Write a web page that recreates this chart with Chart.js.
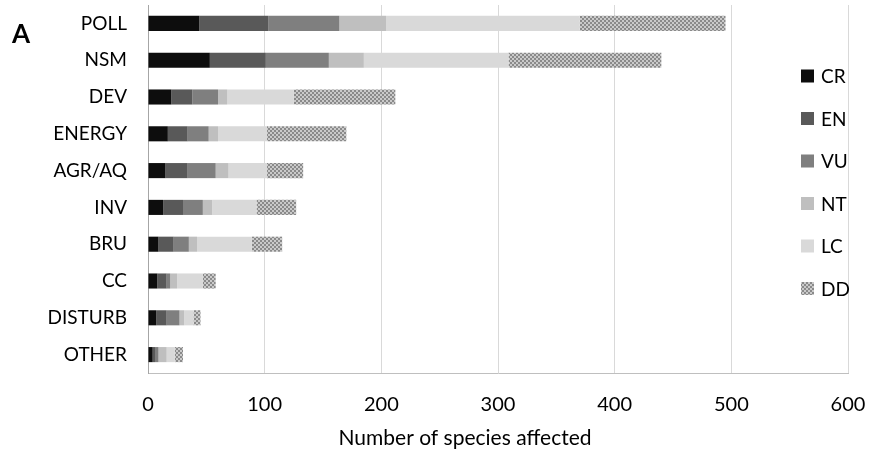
<!DOCTYPE html>
<html>
<head>
<meta charset="utf-8">
<script src="https://cdn.jsdelivr.net/npm/chart.js@4.4.1/dist/chart.umd.min.js"></script>
<style>
html,body{margin:0;padding:0;background:#fff;}
#wrap{width:874px;height:453px;position:relative;}
</style>
</head>
<body>
<div id="wrap"><canvas id="c" width="874" height="453"></canvas></div>
<script>
const categories = ["POLL","NSM","DEV","ENERGY","AGR/AQ","INV","BRU","CC","DISTURB","OTHER"];
const CR = [44, 53, 20, 17, 15, 13, 9, 8, 7, 4];
const EN = [59, 48, 18, 17, 19, 17, 13, 8, 9, 2];
const VU = [61, 54, 22, 18, 24, 17, 13, 3, 11, 3];
const NT = [40, 30, 8, 8, 11, 8, 7, 6, 4, 7];
const LC = [166, 124, 57, 42, 33, 38, 47, 22, 8, 7];
const DD = [125, 131, 87, 68, 31, 34, 26, 11, 6, 7];
const seriesNames = ["CR","EN","VU","NT","LC","DD"];
const xTicks = [0,100,200,300,400,500,600];
const xTitle = "Number of species affected";
const panelLabel = "A";

function makePattern(){
  const p = document.createElement('canvas');
  p.width = 4; p.height = 4;
  const g = p.getContext('2d');
  g.fillStyle = '#cacaca'; g.fillRect(0,0,4,4);
  g.fillStyle = '#8a8a8a';
  g.fillRect(0,0,2,2); g.fillRect(2,2,2,2);
  return g.createPattern(p,'repeat');
}
const ctx = document.getElementById('c').getContext('2d');
const ddPattern = makePattern();
const colors = ['#0d0d0d','#595959','#7f7f7f','#bfbfbf','#d9d9d9', ddPattern];
const values = [CR,EN,VU,NT,LC,DD];

const FONT = "Lato, 'Open Sans', sans-serif";

const legendPlugin = {
  id: 'customLegend',
  afterDraw(chart){
    const c = chart.ctx;
    const ca = chart.chartArea;
    c.save();
    const x0 = ca.right - 47, y0 = 76, step = 42.5, box = 13;
    chart.data.datasets.forEach((ds,i)=>{
      const y = y0 + i*step;
      c.fillStyle = ds.backgroundColor;
      c.fillRect(x0, y - box/2, box, box);
      c.fillStyle = '#000';
      c.font = "19px " + FONT;
      c.textBaseline = 'middle';
      c.textAlign = 'left';
      c.fillText(ds.label, x0 + 20, y + 1);
    });
    c.font = "bold 26px " + FONT;
    c.textBaseline = 'alphabetic';
    c.fillText(panelLabel, 12, 43);
    c.font = "21px " + FONT;
    c.textAlign = 'center';
    c.textBaseline = 'middle';
    c.fillText(xTitle, 465, 438);
    c.restore();
  }
};

new Chart(ctx, {
  type: 'bar',
  data: {
    labels: categories,
    datasets: seriesNames.map((n,i)=>({
      label: n,
      data: values[i],
      backgroundColor: colors[i],
      borderWidth: 0,
      categoryPercentage: 1,
      barPercentage: 0.41
    }))
  },
  options: {
    indexAxis: 'y',
    responsive: false,
    animation: false,
    layout: { padding: { top: 5, right: 26, left: 0, bottom: 0 } },
    plugins: { legend: { display: false }, tooltip: { enabled: false } },
    scales: {
      x: {
        stacked: true,
        min: 0, max: 600,
        afterBuildTicks: s => { s.ticks = xTicks.map(v=>({value:v})); },
        grid: { color: '#d9d9d9', drawTicks: false, lineWidth: 1 },
        border: { display: true, color: '#bfbfbf' },
        ticks: { color: '#000', font: { family: FONT, size: 20 }, padding: 20 },
        title: { display: false },
        afterFit: s => { s.height = 80; s.paddingLeft = 0; s.paddingRight = 0; s.paddingTop = 0; s.paddingBottom = 0; }
      },
      y: {
        stacked: true,
        grid: { color: 'transparent', drawTicks: false },
        border: { display: true, color: '#a6a6a6' },
        ticks: { color: '#000', font: { family: FONT, size: 19 }, padding: 21 },
        afterFit: s => { s.width = 148; s.paddingTop = 0; s.paddingBottom = 0; s.paddingLeft = 0; s.paddingRight = 0; }
      }
    }
  },
  plugins: [legendPlugin]
});
</script>
</body>
</html>
